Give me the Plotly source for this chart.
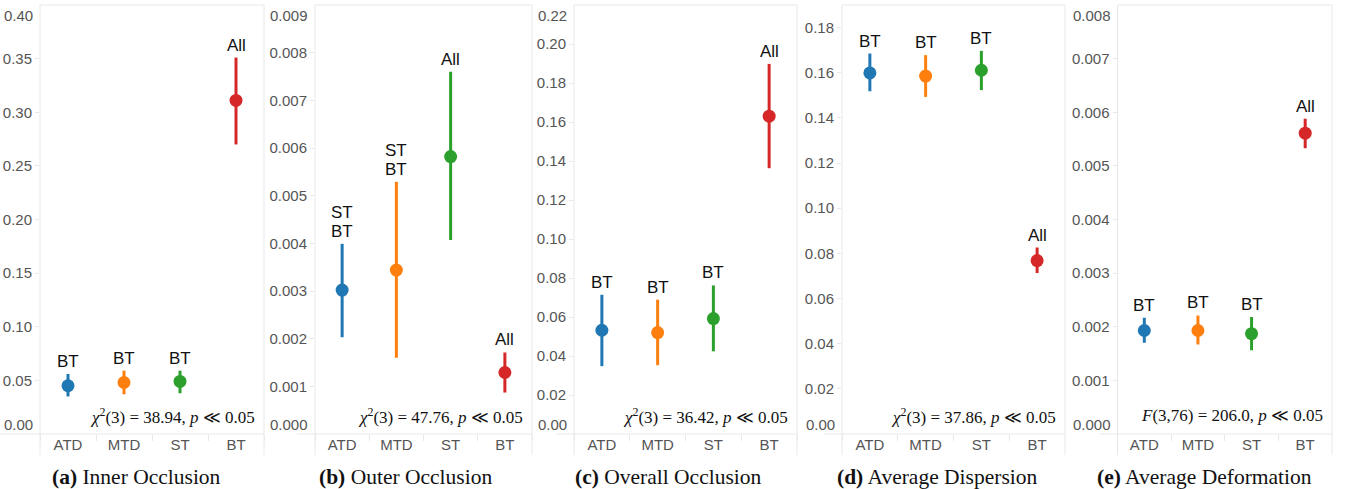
import plotly.graph_objects as go

W, H = 1351, 489

categories = ["ATD", "MTD", "ST", "BT"]
colors = ["#1f77b4", "#ff7f0e", "#2ca02c", "#d62728"]

inner_mean = [0.045, 0.048, 0.049, 0.311]
inner_low = [0.035, 0.037, 0.038, 0.270]
inner_high = [0.056, 0.059, 0.059, 0.351]
inner_sig = ["BT", "BT", "BT", "All"]

outer_mean = [0.00302, 0.00344, 0.00582, 0.00129]
outer_low = [0.00203, 0.00160, 0.00407, 0.00087]
outer_high = [0.00399, 0.00529, 0.00760, 0.00171]
outer_sig = ["ST<br>BT", "ST<br>BT", "All", "All"]

overall_mean = [0.0532, 0.0520, 0.0592, 0.1630]
overall_low = [0.0348, 0.0353, 0.0424, 0.1363]
overall_high = [0.0714, 0.0689, 0.0762, 0.1898]
overall_sig = ["BT", "BT", "BT", "All"]

disp_mean = [0.1599, 0.1585, 0.1611, 0.0768]
disp_low = [0.1518, 0.1493, 0.1523, 0.0713]
disp_high = [0.1685, 0.1678, 0.1697, 0.0826]
disp_sig = ["BT", "BT", "BT", "All"]

deform_mean = [0.00193, 0.00193, 0.00187, 0.00561]
deform_low = [0.00170, 0.00167, 0.00156, 0.00533]
deform_high = [0.00217, 0.00221, 0.00218, 0.00588]
deform_sig = ["BT", "BT", "BT", "All"]

inner_ticks = ["0.00", "0.05", "0.10", "0.15", "0.20", "0.25", "0.30", "0.35", "0.40"]
outer_ticks = ["0.000", "0.001", "0.002", "0.003", "0.004", "0.005", "0.006", "0.007", "0.008", "0.009"]
overall_ticks = ["0.00", "0.02", "0.04", "0.06", "0.08", "0.10", "0.12", "0.14", "0.16", "0.18", "0.20", "0.22"]
disp_ticks = ["0.00", "0.02", "0.04", "0.06", "0.08", "0.10", "0.12", "0.14", "0.16", "0.18"]
deform_ticks = ["0.000", "0.001", "0.002", "0.003", "0.004", "0.005", "0.006", "0.007", "0.008"]

y_max = [0.40, 0.009, 0.22, 0.19, 0.008]

stats = [
    "<i>χ</i><sup>2</sup>(3) = 38.94, <i>p</i> ≪ 0.05",
    "<i>χ</i><sup>2</sup>(3) = 47.76, <i>p</i> ≪ 0.05",
    "<i>χ</i><sup>2</sup>(3) = 36.42, <i>p</i> ≪ 0.05",
    "<i>χ</i><sup>2</sup>(3) = 37.86, <i>p</i> ≪ 0.05",
    "<i>F</i>(3,76) = 206.0, <i>p</i> ≪ 0.05",
]
captions = [
    "<b>(a)</b> Inner Occlusion",
    "<b>(b)</b> Outer Occlusion",
    "<b>(c)</b> Overall Occlusion",
    "<b>(d)</b> Average Dispersion",
    "<b>(e)</b> Average Deformation",
]

panels = [
    (inner_mean, inner_low, inner_high, inner_sig, inner_ticks),
    (outer_mean, outer_low, outer_high, outer_sig, outer_ticks),
    (overall_mean, overall_low, overall_high, overall_sig, overall_ticks),
    (disp_mean, disp_low, disp_high, disp_sig, disp_ticks),
    (deform_mean, deform_low, deform_high, deform_sig, deform_ticks),
]

# layout geometry (pixels)
x_px = [(40, 264), (315, 532), (574, 797), (842, 1065), (1117.5, 1332)]
cap_px = [136, 405, 668, 937, 1204]
axis_ext_px = [40, 18, 18, 18, 18]
top_m, bot_m = 5, 55
plot_h = H - top_m - bot_m

LINE = "#e8e8e8"
TICKCOL = "#555555"
SANS = "Liberation Sans, Arial, sans-serif"
SERIF = "Liberation Serif, Times New Roman, serif"
SIG_SIZE = 17
SIG_LINE = 19

fig = go.Figure()
shapes = []
annotations = []

for i, (mean, low, high, sig, ticks) in enumerate(panels):
    n = i + 1
    xa = "x" if n == 1 else f"x{n}"
    ya = "y" if n == 1 else f"y{n}"
    for j, cat in enumerate(categories):
        fig.add_trace(go.Scatter(
            x=[cat], y=[mean[j]], xaxis=xa, yaxis=ya, mode="markers",
            marker=dict(color=colors[j], size=13),
            error_y=dict(type="data", symmetric=False,
                         array=[high[j] - mean[j]], arrayminus=[mean[j] - low[j]],
                         color=colors[j], thickness=3, width=0),
            showlegend=False, hoverinfo="skip",
        ))
        lines = sig[j].split("<br>")
        for k, line in enumerate(reversed(lines)):
            annotations.append(dict(
                x=cat, y=high[j], xref=xa, yref=ya, text=line, showarrow=False,
                yanchor="bottom", yshift=1 + k * SIG_LINE,
                font=dict(family=SANS, size=SIG_SIZE, color="#111111"),
            ))
    x0, x1 = x_px[i]
    dom = [x0 / W, x1 / W]
    tvals = [float(t) for t in ticks]
    inner_vals = [v for v in tvals if 0 < v < y_max[i] - 1e-12]
    inner_text = [t for t, v in zip(ticks, tvals) if 0 < v < y_max[i] - 1e-12]
    fig.update_layout(**{
        ("xaxis" if n == 1 else f"xaxis{n}"): dict(
            domain=dom, anchor=ya, type="category",
            categoryorder="array", categoryarray=categories,
            range=[-0.5, 3.5], ticks="outside", tickson="boundaries",
            ticklen=6, tickcolor=LINE, showline=False, showgrid=False,
            zeroline=False, tickfont=dict(family=SANS, size=15, color=TICKCOL),
        ),
        ("yaxis" if n == 1 else f"yaxis{n}"): dict(
            domain=[0, 1], anchor=xa, range=[0, y_max[i]],
            tickvals=inner_vals, ticktext=inner_text,
            ticks="outside", ticklen=4, tickcolor=LINE, showline=False,
            showgrid=False, zeroline=False,
            tickfont=dict(family=SANS, size=15, color=TICKCOL),
        ),
    })
    # end tick labels shifted inward
    for t, v in zip(ticks, tvals):
        if v == 0:
            annotations.append(dict(x=0, xref=f"{xa} domain", y=0, yref=ya, text=t,
                                    showarrow=False, xanchor="right", xshift=-5, yshift=10,
                                    font=dict(family=SANS, size=15, color=TICKCOL)))
        elif abs(v - y_max[i]) < 1e-12:
            annotations.append(dict(x=0, xref=f"{xa} domain", y=v, yref=ya, text=t,
                                    showarrow=False, xanchor="right", xshift=-5, yshift=-10,
                                    font=dict(family=SANS, size=15, color=TICKCOL)))
    ext = axis_ext_px[i] / (x1 - x0)
    below = 21 / plot_h
    xd, yd = f"{xa} domain", f"{ya} domain"
    shapes += [
        dict(type="line", xref=xd, yref=yd, x0=0, x1=1, y0=1, y1=1, line=dict(color=LINE, width=1)),
        dict(type="line", xref=xd, yref=yd, x0=0, x1=0, y0=-below, y1=1, line=dict(color=LINE, width=1)),
        dict(type="line", xref=xd, yref=yd, x0=1, x1=1, y0=-below, y1=1, line=dict(color=LINE, width=1)),
        dict(type="line", xref=xd, yref=yd, x0=-ext, x1=1, y0=0, y1=0, line=dict(color=LINE, width=1)),
    ]
    annotations.append(dict(
        x=1, xref=xd, y=0.042, yref=yd, text=stats[i], showarrow=False,
        xanchor="right", yanchor="middle", xshift=-7,
        font=dict(family=SERIF, size=17, color="#111111"),
    ))
    annotations.append(dict(
        x=cap_px[i] / W, xref="paper", y=-(477 - (H - bot_m)) / plot_h, yref="paper",
        text=captions[i], showarrow=False, xanchor="center", yanchor="middle",
        font=dict(family=SERIF, size=21.5, color="#111111"),
    ))

fig.update_layout(
    width=W, height=H,
    margin=dict(l=0, r=0, t=top_m, b=bot_m),
    paper_bgcolor="white", plot_bgcolor="white",
    shapes=shapes, annotations=annotations,
)

fig.write_html(
    "out.html",
    config={"displayModeBar": False},
    post_script="document.body.style.margin='0';document.body.style.padding='0';",
)
